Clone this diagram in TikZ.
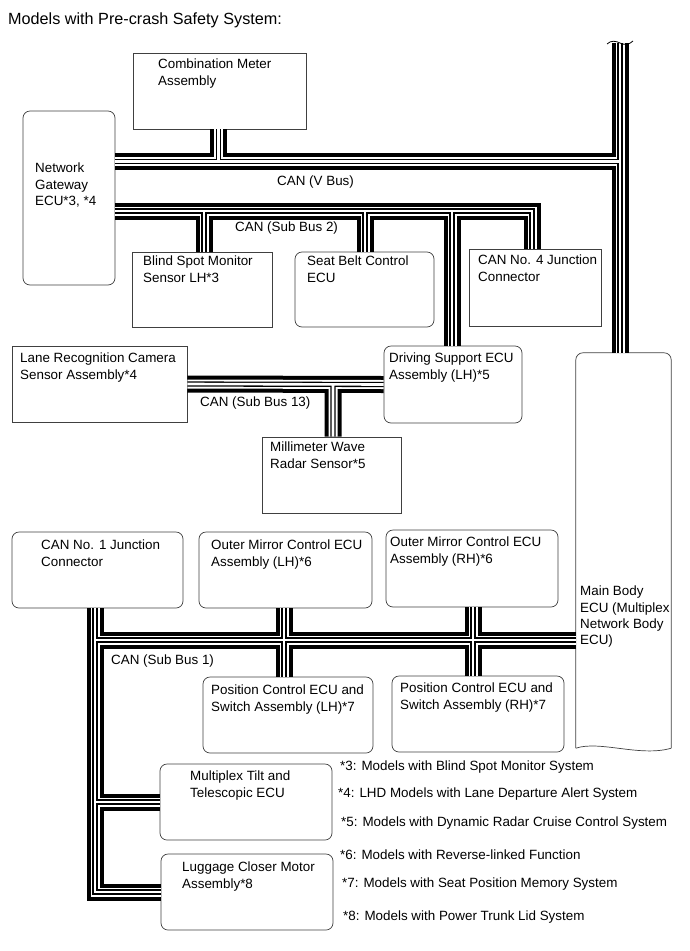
\documentclass[tikz,border=0pt]{standalone}
\usepackage{fontspec}
\setmainfont{Liberation Sans}
\usepackage{tikz}
\usetikzlibrary{positioning,calc}
\tikzset{
  canbus/.style={line width=17, black, postaction={draw, white, line width=9}, postaction={draw, black, line width=5.2}, postaction={draw, white, line width=2.6}},
  ecubox/.style={draw=black!75, line width=0.7, fill=white, inner sep=0},
  ecuround/.style={ecubox, rounded corners=7},
  boxtext/.style={anchor=north west, align=left, inner sep=0},
  buslabel/.style={anchor=north west, inner sep=0},
  note/.style={anchor=north west, inner sep=0}
}

\begin{document}
\begin{tikzpicture}[x=1pt, y=-1pt, every node/.style={font=\fontsize{13.4}{16.3}\selectfont}]
  \useasboundingbox (0,0) rectangle (690,951);
  \node[anchor=north west, inner sep=0, font=\fontsize{16.2}{19}\selectfont] (title) at (8,13) {Models with Pre-crash Safety System:};

  % ECU boxes
  \node[ecubox, minimum width=173, minimum height=76] (cm) at (219.5,91) {};
  \node[ecuround, minimum width=92, minimum height=174] (gw) at (69,198) {};
  \node[ecubox, minimum width=140, minimum height=75] (bsm) at (202,289.5) {};
  \node[ecuround, minimum width=139, minimum height=75] (sb) at (364.5,289.5) {};
  \node[ecubox, minimum width=132, minimum height=77] (cj4) at (535,287.5) {};
  \node[ecuround, minimum width=138, minimum height=77] (ds) at (453,384.5) {};
  \node[ecubox, minimum width=175, minimum height=76] (lrc) at (99.5,384) {};
  \node[ecubox, minimum width=139, minimum height=76] (mw) at (331.5,475) {};
  \node[ecuround, minimum width=171, minimum height=76] (cj1) at (97.5,570) {};
  \node[ecuround, minimum width=173, minimum height=76] (oml) at (285.5,570) {};
  \node[ecuround, minimum width=172, minimum height=77] (omr) at (472,568.5) {};
  \node[ecuround, minimum width=170, minimum height=76] (pcl) at (288,715) {};
  \node[ecuround, minimum width=172, minimum height=76] (pcr) at (478,714) {};
  \node[ecuround, minimum width=172, minimum height=76] (mt) at (246,802) {};
  \node[ecuround, minimum width=172, minimum height=76] (lc) at (247,892) {};
  \node[inner sep=0, minimum width=95, minimum height=395] (mb) at (623.5,550.5) {};
  \draw[draw=black!75, line width=0.7, rounded corners=7] (mb.south west) -- (mb.north west) -- (mb.north east) -- (mb.south east);
  \draw[draw=black!75, line width=0.7] (mb.south west) .. controls +(24,-8) and +(-31,9) .. (mb.south east);

  % bus junctions
  \coordinate (jv) at (620,161.5);
  \coordinate (jcm) at (218.5,161.5);
  \coordinate (vtop) at (620,43);
  \coordinate (j2) at (532,211);
  \coordinate (jbsm) at (204,211);
  \coordinate (jsb) at (365,211);
  \coordinate (jds) at (452,211);
  \coordinate (j13) at (333,384);
  \coordinate (j1) at (95,640);
  \coordinate (jom1) at (284,640);
  \coordinate (jom2) at (473,640);

  % CAN (V Bus)
  \draw[canbus] (gw.east |- jv) -- (jv) (jcm) -- (jcm |- cm.south) (mb.north -| jv) -- (vtop);
  \draw[line width=0.8] (607,44) .. controls (611,40) and (616,41) .. (620,43) .. controls (624,45) and (629,45) .. (633,41);
  % CAN (Sub Bus 2)
  \draw[canbus] (gw.east |- j2) -- (j2) -- (j2 |- cj4.north) (jbsm) -- (jbsm |- bsm.north) (jsb) -- (jsb |- sb.north) (jds) -- (jds |- ds.north);
  % CAN (Sub Bus 13)
  \draw[canbus] (lrc.east) -- (ds.west) (j13) -- (j13 |- mw.north);
  % CAN (Sub Bus 1)
  \draw[canbus] (j1 |- cj1.south) -- (j1 |- lc.west) -- (lc.west) (j1) -- (mb.west |- j1) (j1 |- mt.west) -- (mt.west) (jom1 |- oml.south) -- (jom1 |- pcl.north) (jom2 |- omr.south) -- (jom2 |- pcr.north);

  % texts
  \node[boxtext] (cm-t) at (158,59) {Combination Meter\\Assembly};
  \node[boxtext] (gw-t) at (35,163) {Network\\Gateway\\ECU*3, *4};
  \node[boxtext] (bsm-t) at (143,256) {Blind Spot Monitor\\Sensor LH*3};
  \node[boxtext] (sb-t) at (307,256) {Seat Belt Control\\ECU};
  \node[boxtext] (cj4-t) at (478,255) {CAN No. 4 Junction\\Connector};
  \node[boxtext] (ds-t) at (389,353) {Driving Support ECU\\Assembly (LH)*5};
  \node[boxtext] (lrc-t) at (20,353) {Lane Recognition Camera\\Sensor Assembly*4};
  \node[boxtext] (mw-t) at (270,442) {Millimeter Wave\\Radar Sensor*5};
  \node[boxtext] (cj1-t) at (41,540) {CAN No. 1 Junction\\Connector};
  \node[boxtext] (oml-t) at (211,540) {Outer Mirror Control ECU\\Assembly (LH)*6};
  \node[boxtext] (omr-t) at (390,537) {Outer Mirror Control ECU\\Assembly (RH)*6};
  \node[boxtext] (pcl-t) at (211,685) {Position Control ECU and\\Switch Assembly (LH)*7};
  \node[boxtext] (pcr-t) at (400,683) {Position Control ECU and\\Switch Assembly (RH)*7};
  \node[boxtext] (mb-t) at (580,586) {Main Body\\ECU (Multiplex\\Network Body\\ECU)};
  \node[boxtext] (mt-t) at (190,771) {Multiplex Tilt and\\Telescopic ECU};
  \node[boxtext] (lc-t) at (182,862) {Luggage Closer Motor\\Assembly*8};

  \node[buslabel] (vbus) at (277,176) {CAN (V Bus)};
  \node[buslabel] (sub2) at (235,222) {CAN (Sub Bus 2)};
  \node[buslabel] (sub13) at (200,397) {CAN (Sub Bus 13)};
  \node[buslabel] (sub1) at (111,655) {CAN (Sub Bus 1)};

  % footnotes
  \node[note] (n3) at (340,761) {*3: Models with Blind Spot Monitor System};
  \node[note] (n4) at (338,788) {*4: LHD Models with Lane Departure Alert System};
  \node[note] (n5) at (341,817) {*5: Models with Dynamic Radar Cruise Control System};
  \node[note] (n6) at (340,850) {*6: Models with Reverse-linked Function};
  \node[note] (n7) at (342,878) {*7: Models with Seat Position Memory System};
  \node[note] (n8) at (343,911) {*8: Models with Power Trunk Lid System};
\end{tikzpicture}
\end{document}
